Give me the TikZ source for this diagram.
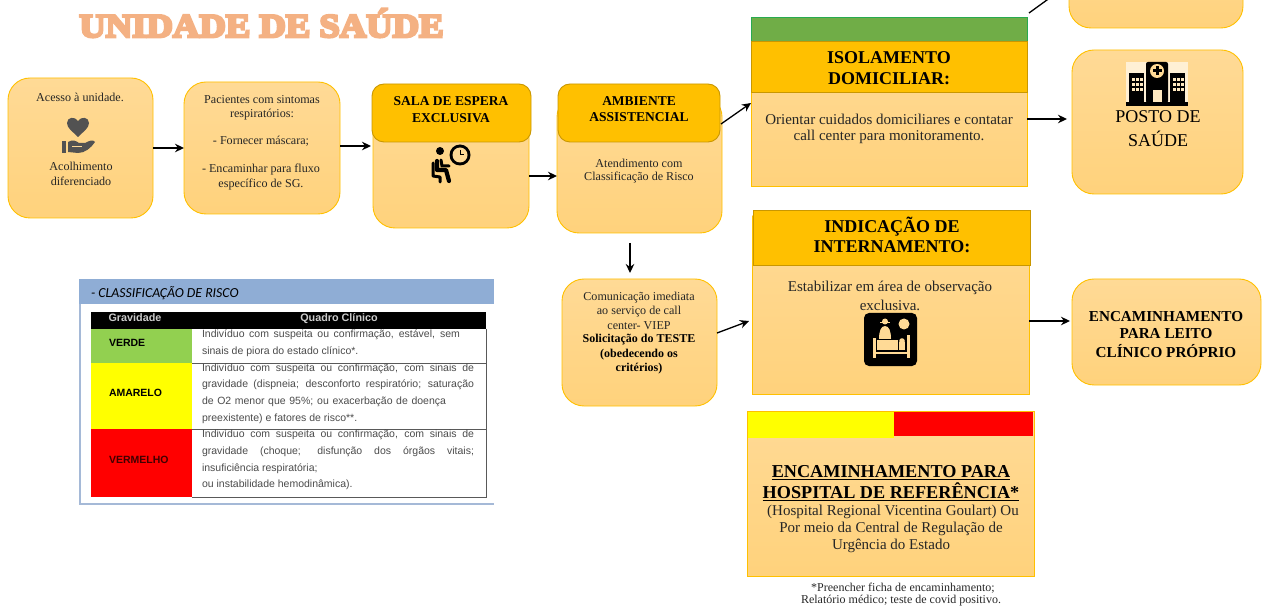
\documentclass[tikz,border=0pt]{standalone}
\usepackage{fontspec}
\setmainfont{Liberation Serif}
\setsansfont{Liberation Sans}
\newfontfamily\titlefont[FakeBold=8,FakeStretch=1.11]{Liberation Serif Bold}
\newfontfamily\capfont{Carlito}
\usetikzlibrary{arrows.meta,calc}
\newcounter{tn}
\newcommand\fs[1]{\fontsize{#1}{#1}\selectfont}
\newcommand\tx[4][]{\stepcounter{tn}\node[lab,#1] (t\arabic{tn}) at (#2,#3) {#4};}
\newcommand\bx[7][]{\node[#6,minimum width=#4-#2,minimum height=#5-#3,#1] (#7) at ({(#2+#4)/2},{(#3+#5)/2}) {};}
\newcommand\jl[2]{\makebox[#1pt][s]{#2}}
\definecolor{lightor}{HTML}{FFDA96}
\definecolor{midor}{HTML}{FFD27C}
\definecolor{gold}{HTML}{FFC000}
\definecolor{golddk}{HTML}{C99700}
\definecolor{ink}{HTML}{262626}
\definecolor{yel}{RGB}{255,255,0}
\definecolor{redd}{RGB}{255,0,0}
\tikzset{
 x=1pt,y=-1pt,
 lab/.style={inner sep=0pt,outer sep=0pt,align=center,text=ink},
 rbox/.style={draw=gold,line width=.9pt,top color=lightor,bottom color=midor,rounded corners=22pt,inner sep=0pt,outer sep=0pt},
 sbox/.style={draw=gold,line width=.9pt,top color=lightor,bottom color=midor,inner sep=0pt,outer sep=0pt},
 head/.style={draw=golddk,line width=.9pt,fill=gold,inner sep=0pt,outer sep=0pt},
 arr/.style={draw=black,line width=1.3pt,-{Stealth[length=9pt,width=8.5pt]}},
 tcell/.style={inner sep=0pt,outer sep=0pt},
 tline/.style={draw=gray!70!black,line width=.8pt},
 body11/.style={font=\fs{12.1}},
 bold12/.style={font=\fs{12}\bfseries,text=black},
 hd13/.style={font=\fs{13.5}\bfseries,text=black},
 hd175/.style={font=\fs{18}\bfseries,text=black},
 body14/.style={font=\fs{15}},
 enc/.style={font=\fs{15.2}\bfseries,text=black},
 hospt/.style={font=\fs{18.2}\bfseries,text=black},
 tb/.style={font=\sffamily\fs{10.5},text=black!70,anchor=west},
 tbb/.style={font=\sffamily\bfseries\fs{10.5},anchor=west,text=black},
 thd/.style={font=\sffamily\bfseries\fs{10.8},text=black!20!white,anchor=base},
}
\begin{document}
\begin{tikzpicture}
\useasboundingbox (0,0) rectangle (1263,609);
% title
\tx[font=\titlefont\fs{33},text={rgb,255:red,244;green,177;blue,131}]{261.5}{23}{UNIDADE DE SAÚDE}

% top row boxes
\bx{8}{78}{153}{218}{rbox}{acesso}
\bx{184}{82}{340}{214}{rbox}{pacientes}
\bx{373}{95}{529}{228}{rbox}{sala}
\bx{372}{84}{531}{142}{head,rounded corners=12pt}{salah}
\bx{557}{95}{722}{233}{rbox}{amb}
\bx{558}{84}{720}{142}{head,rounded corners=12pt}{ambh}
\bx{1069}{-60}{1243}{28}{rbox}{topbox}
\bx{1072}{50}{1243}{194}{rbox}{posto}
\bx{1072}{279}{1261}{385}{rbox}{leito}
\bx{562}{279}{717}{406}{rbox}{comm}

% isolamento
\bx{751}{41}{1027}{186}{sbox}{iso}
\bx{751}{17}{1027}{41}{draw={rgb,255:red,40;green,170;blue,80},fill={rgb,255:red,112;green,173;blue,71},line width=.9pt}{isog}
\bx{751}{41}{1027}{92}{head}{isoh}
% internamento
\bx{752}{216}{1029}{394}{sbox}{intern}
\bx{753}{210}{1030}{265}{head}{internh}
% hospital
\bx{747}{411}{1034}{576}{sbox}{hosp}
\bx{748}{412}{894}{438}{fill=yel}{hospy}
\bx{894}{412}{1033}{436}{fill=redd}{hospr}

% texts
\tx[body11]{80}{97}{Acesso à unidade.}
\tx[body11]{81}{166}{Acolhimento}
\tx[body11]{81}{181}{diferenciado}

\tx[body11]{262}{100}{Pacientes com sintomas}
\tx[body11]{262}{114.5}{respiratórios:}
\tx[body11]{261}{141.5}{- Fornecer máscara;}
\tx[body11]{261}{169.5}{- Encaminhar para fluxo}
\tx[body11]{261}{184.5}{específico de SG.}

\tx[hd13]{451}{101}{SALA DE ESPERA}
\tx[hd13]{451}{118}{EXCLUSIVA}
\tx[hd13]{639}{101}{AMBIENTE}
\tx[hd13]{639}{117}{ASSISTENCIAL}
\tx[body11]{639}{163}{Atendimento com}
\tx[body11]{639}{177.5}{Classificação de Risco}

\tx[body11]{639}{298}{Comunicação imediata}
\tx[body11]{639}{312}{ao serviço de call}
\tx[body11]{639}{326}{center- VIEP}
\tx[bold12]{639}{340}{Solicitação do TESTE}
\tx[bold12]{639}{354.5}{(obedecendo os}
\tx[bold12]{639}{368.5}{critérios)}

\tx[hd175]{889}{58}{ISOLAMENTO}
\tx[hd175]{889}{79}{DOMICILIAR:}
\tx[body14]{889}{119}{Orientar cuidados domiciliares e contatar}
\tx[body14]{889}{137}{call center para monitoramento.}

\tx[font=\fs{18},text=black]{1158}{117}{POSTO DE}
\tx[font=\fs{18},text=black]{1158}{139}{SAÚDE}

\tx[hd175]{892}{227}{INDICAÇÃO DE}
\tx[hd175]{892}{247}{INTERNAMENTO:}
\tx[body14]{890}{288}{Estabilizar em área de observação}
\tx[body14]{890}{305}{exclusiva.}

\tx[enc]{1166}{316.5}{ENCAMINHAMENTO}
\tx[enc]{1166}{334}{PARA LEITO}
\tx[enc]{1166}{351}{CLÍNICO PRÓPRIO}

\tx[hospt]{891}{473}{\underline{ENCAMINHAMENTO PARA}}
\tx[hospt]{891}{492}{\underline{HOSPITAL DE REFERÊNCIA*}}
\tx[body14]{893}{512}{(Hospital Regional Vicentina Goulart) Ou}
\tx[body14]{891}{529}{Por meio da Central de Regulação de}
\tx[body14]{891}{546}{Urgência do Estado}
\tx[font=\fs{12}]{903}{588}{*Preencher ficha de encaminhamento;}
\tx[font=\fs{12}]{901}{601}{Relatório médico; teste de covid positivo.}

% connectors
\draw[arr] (acesso.east) -- (pacientes.west);
\coordinate (pacout) at (pacientes.east |- 0,146);
\coordinate (salain) at ([xshift=-2pt]sala.west |- 0,146);
\draw[arr] (pacout) -- (salain);
\coordinate (salaout) at (sala.east |- 0,176);
\coordinate (ambin) at (amb.west |- 0,176);
\draw[arr] (salaout) -- (ambin);
\coordinate (ambout) at (721,124);
\coordinate (isoin) at (751,103);
\draw[arr] (ambout) -- (isoin);
\draw[arr] (iso.east |- 0,119) -- ([xshift=-5pt]posto.west |- 0,119);
\coordinate (ambdown) at (630,243);
\coordinate (commtop) at (630,273);
\draw[arr] (ambdown) -- (commtop);
\coordinate (commout) at (717,333);
\coordinate (intin) at (749,321);
\draw[arr] (commout) -- (intin);
\draw[arr] (intern.east |- 0,321) -- ([xshift=-2pt]leito.west |- 0,321);
\coordinate (isoup) at (1029,13);
\draw[arr] (isoup) -- (topbox.west);

% heart and hand icon
\fill[black!68] (78,137) .. controls (72,131) and (67,128) .. (67,123) .. controls (67,117) and (75,116) .. (78,121) .. controls (81,116) and (89,117) .. (89,123) .. controls (89,128) and (84,131) .. (78,137) -- cycle;
\fill[black!68] (61.5,141) rectangle (66,153);
\fill[black!68] (68,142) .. controls (73,139) and (76,141) .. (79,143) -- (85,143) .. controls (89,141) and (93,139) .. (95,142) .. controls (91,148) and (85,153) .. (78,153) -- (68,152) -- cycle;
\fill[lightor] (72,146) -- (82,146) -- (82,147.5) -- (72,147.5) -- cycle;

% waiting person icon
\fill[black] (440,151) circle (4);
\draw[black,line width=4.2pt,line cap=round,line join=round] (437,161) -- (437,170) -- (446,170) -- (449,181);
\draw[black,line width=3pt,line cap=round] (441,160) -- (442,166) -- (449,166);
\draw[black,line width=3pt,line cap=round,line join=round] (433,163) -- (433,176) -- (440,177) -- (440,182);
\fill[black] (460,155) circle (10.5);
\fill[lightor] (460,155) circle (7.5);
\draw[black,line width=1pt] (460,150) -- (460,155) -- (464,155);

% hospital icon
\fill[lightor!40!white] (1126,62) rectangle (1188,102);
\fill[black] (1126,102) rectangle (1188,106);
\fill[black] (1129,73) rectangle (1144,103);
\fill[black] (1170,73) rectangle (1185,103);
\fill[black,rounded corners=2pt] (1146,62) rectangle (1168,103);
\fill[lightor] (1157,71) circle (7);
\fill[black] (1155.5,66.5) rectangle (1158.5,75.5);
\fill[black] (1152.5,69.5) rectangle (1161.5,72.5);
\fill[lightor!60!white] (1153,90) rectangle (1162,102);
\foreach \cx in {1132,1136,1140,1173,1177,1181}
  \foreach \cy in {78,83,88}
    \fill[lightor!60!white] (\cx,\cy) rectangle ++(2.6,2.6);

% bed icon
\fill[black,rounded corners=5pt] (864,313) rectangle (917,366);
\fill[lightor] (904,324) circle (5.5);
\fill[lightor] (885,321.5) circle (3);
\fill[lightor] (880,322) rectangle (890,323.5);
\fill[lightor] (879,339) .. controls (879,331) and (881,326) .. (885,326) .. controls (889,326) and (891,331) .. (891,339) -- cycle;
\fill[lightor] (873,338) rectangle (875.5,358);
\fill[lightor] (907,335) rectangle (909.5,358);
\fill[lightor] (875,352) rectangle (907,354.5);
\fill[lightor] (877,340) rectangle (898,350);
\fill[lightor] (899,342) rectangle (905,350);
\fill[lightor] (902,341) circle (2.8);

% risk table
\fill[white] (79,304) rectangle (494,504);
\draw[draw={rgb,255:red,165;green,185;blue,215},line width=1.2pt] (80,304) -- (80,504) -- (494,504);
\bx{79}{279}{494}{304}{tcell,fill={rgb,255:red,143;green,173;blue,213}}{capbar}
\tx[font=\capfont\itshape\fs{13.8},anchor=west,text=black]{91}{293}{- CLASSIFICAÇÃO DE RISCO}
\bx{91}{312}{486}{329}{tcell,fill=black}{thead}
\bx{91}{329}{192}{363}{tcell,fill={rgb,255:red,146;green,208;blue,80}}{cverde}
\bx{91}{363}{192}{429}{tcell,fill=yel}{camarelo}
\bx{91}{429}{192}{497}{tcell,fill=redd}{cvermelho}
\draw[tline] (192,363) -- (486,363);
\draw[tline] (192,429) -- (486,429);
\draw[tline] (192,497) -- (486,497) -- (486,329);
\tx[thd]{135}{322}{Gravidade}
\tx[thd]{339}{322}{Quadro Clínico}
\tx[tbb]{109}{343}{VERDE}
\tx[tbb]{109}{393}{AMARELO}
\tx[tbb,text=black!75!red]{109}{460}{VERMELHO}
\tx[tb]{202}{335}{\jl{258}{Indivíduo com suspeita ou confirmação, estável, sem}}
\tx[tb]{202}{352}{sinais de piora do estado clínico*.}
\tx[tb]{202}{369}{\jl{272}{Indivíduo com suspeita ou confirmação, com sinais de}}
\tx[tb]{202}{385}{\jl{272}{gravidade (dispneia; desconforto respiratório; saturação}}
\tx[tb]{202}{402}{\jl{244}{de O2 menor que 95\%; ou exacerbação de doença}}
\tx[tb]{202}{419}{preexistente) e fatores de risco**.}
\tx[tb]{202}{435}{\jl{272}{Indivíduo com suspeita ou confirmação, com sinais de}}
\tx[tb]{202}{452}{\jl{272}{gravidade (choque; disfunção dos órgãos vitais;}}
\tx[tb]{202}{469}{insuficiência respiratória;}
\tx[tb]{202}{485}{ou instabilidade hemodinâmica).}
\end{tikzpicture}
\end{document}
